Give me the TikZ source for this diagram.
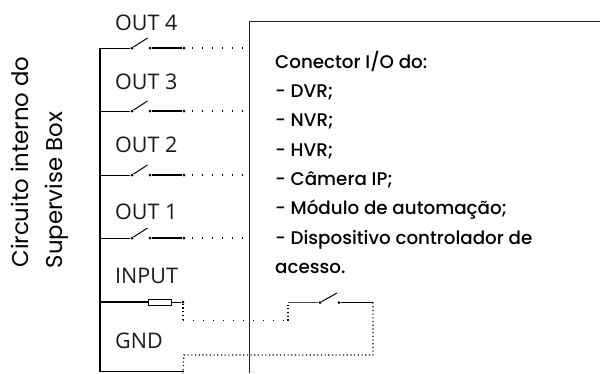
\documentclass[tikz,border=0pt]{standalone}
\usepackage{fontspec}
\setmainfont{Poppins}
\newfontfamily\boxfont{Poppins Medium}
\newfontfamily\lblfont{Open Sans}
\begin{document}
\begin{tikzpicture}[x=1pt,y=-1pt,
  wire/.style={line width=1pt,black},
  dotw/.style={line width=1.1pt,black,dash pattern=on 1.1pt off 8.9pt,dash phase=2pt},
  dotv/.style={line width=1.1pt,black,dash pattern=on 1.1pt off 2.6pt},
  term/.style={circle,fill=black,inner sep=0pt,minimum size=3pt},
  lbl/.style={font=\lblfont\fontsize{21.5}{24}\selectfont,anchor=base west,inner sep=0pt,text=black!90},
  boxtext/.style={font=\boxfont\fontsize{18.3}{20}\selectfont,anchor=base west,inner sep=0pt,text=black},
  sidetext/.style={font=\fontsize{22.8}{24}\selectfont,rotate=90,anchor=base,inner sep=0pt,text=black}
]
\useasboundingbox (0,0) rectangle (602,373);
% labels
\node[lbl] (l4) at (115,30) {OUT 4};
\node[lbl] (l3) at (115,89) {OUT 3};
\node[lbl] (l2) at (115,152) {OUT 2};
\node[lbl] (l1) at (115,219) {OUT 1};
\node[lbl] (li) at (115,283) {INPUT};
\node[lbl] (lg) at (115,348) {GND};
\node[sidetext] (s1) at (28,162) {Circuito interno do};
\node[sidetext] (s2) at (62,190) {Supervise Box};
\node[boxtext] (t1) at (275,68) {Conector I/O do:};
\node[boxtext] (t2) at (275,97.5) {- DVR;};
\node[boxtext] (t3) at (275,126.5) {- NVR;};
\node[boxtext] (t4) at (275,156) {- HVR;};
\node[boxtext] (t5) at (275,185) {- Câmera IP;};
\node[boxtext] (t6) at (275,214.5) {- Módulo de automação;};
\node[boxtext] (t7) at (275,244) {- Dispositivo controlador de};
\node[boxtext] (t8) at (275,273) {acesso.};
% box outline
\coordinate (bt) at (600,21);
\coordinate (bc) at (249,21);
\coordinate (bb) at (249,373);
\draw[line width=0.9pt,black!85] (bt) -- (bc) -- (bb);
% bus
\coordinate (b4) at (100,48);
\coordinate (b3) at (100,111);
\coordinate (b2) at (100,175);
\coordinate (b1) at (100,238);
\coordinate (bi) at (100,302);
\coordinate (bg) at (100,371.5);
\draw[line width=1.3pt] (b4) -- (bg);
% output switches
\foreach \n/\y in {4/48,3/111,2/175,1/238}{
  \node[term] (a\n) at (132,\y) {};
  \node[term] (c\n) at (150,\y) {};
  \node[term] (d\n) at (184,\y) {};
  \coordinate (e\n) at (249,\y);
  \coordinate (h\n) at (147.5,\y-10);
  \draw[wire] (b\n) -- (a\n);
  \draw[wire] (a\n) -- (h\n);
  \draw[line width=1.3pt] (c\n) -- (d\n);
  \draw[dotw] (d\n.center) -- (e\n);
}
% input resistor
\node[draw=black,fill=white,line width=0.8pt,minimum width=23pt,minimum height=6pt,inner sep=0pt] (r) at (159.5,302) {};
\node[term] (ri) at (183,302) {};
\draw[line width=1.3pt] (bi) -- (r.west);
\draw[wire] (r.east) -- (ri);
% external switch
\coordinate (xa) at (288,302.5);
\node[term] (xb) at (320,302.5) {};
\node[term] (xc) at (339,302.5) {};
\coordinate (xd) at (373,302.5);
\coordinate (xh) at (337,293);
\draw[wire,black!70] (xa) -- (xb);
\draw[wire] (xb) -- (xh);
\draw[line width=1.3pt] (xc) -- (xd);
% dotted links
\coordinate (m1) at (183,320.5);
\coordinate (m2) at (288,320.5);
\draw[dotv] (ri) -- (m1);
\draw[dotw,dash phase=0pt] (m1) -- (m2);
\draw[dotv] (m2) -- (xa);
\coordinate (n1) at (373,355);
\coordinate (n2) at (184,355);
\node[term,minimum size=2.4pt] (gt) at (183,371.5) {};
\draw[dotv] (xd) -- (n1) -- (n2) -- (gt);
\draw[line width=1.3pt] (bg) -- (gt);
\end{tikzpicture}
\end{document}
